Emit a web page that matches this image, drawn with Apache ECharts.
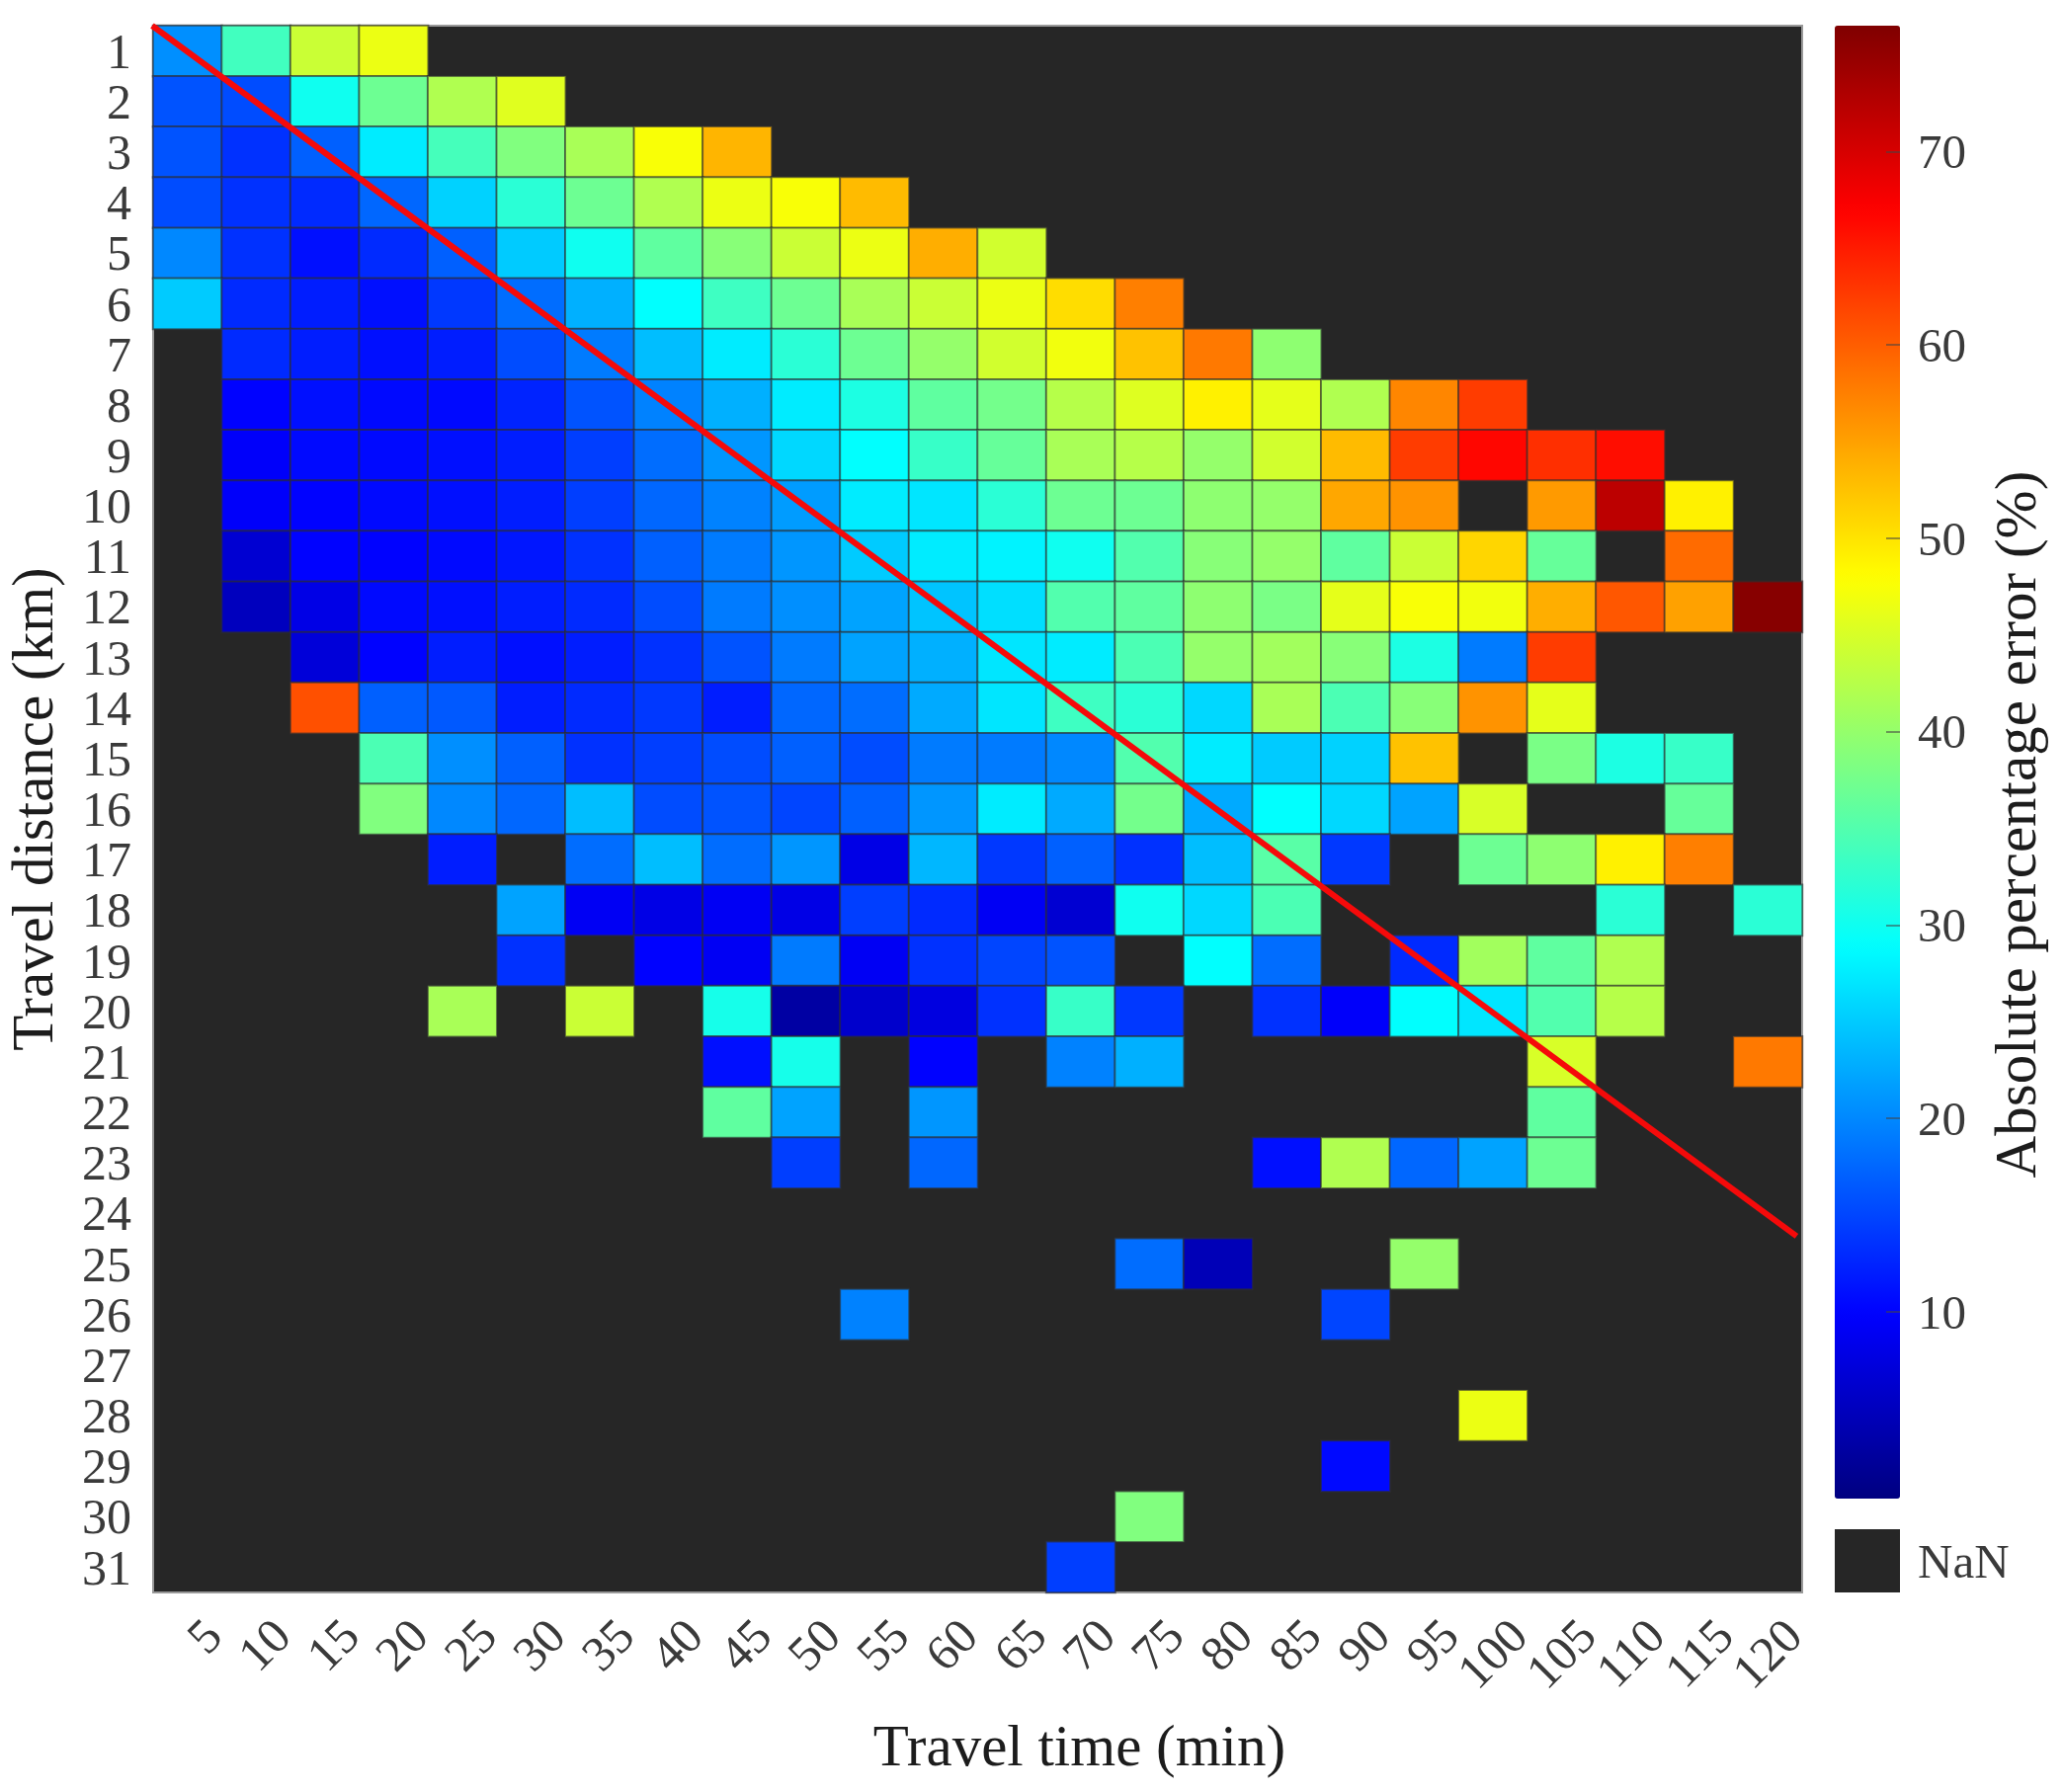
<!DOCTYPE html>
<html><head><meta charset="utf-8">
<style>html,body{margin:0;padding:0;background:#fff}#c{width:2088px;height:1814px}</style>
<script src="https://cdn.jsdelivr.net/npm/echarts@6/dist/echarts.min.js"></script>
</head><body><div id="c"></div>
<script>
const _ = null;
const travelTimes = ['5','10','15','20','25','30','35','40','45','50','55','60','65','70','75','80','85','90','95','100','105','110','115','120'];
const travelDistances = ['1','2','3','4','5','6','7','8','9','10','11','12','13','14','15','16','17','18','19','20','21','22','23','24','25','26','27','28','29','30','31'];
const row1 = [20.5,33.7,44,46.5];
const row2 = [16,15.5,30,37,42,45.6];
const row3 = [16,13.5,17,27.5,34,38.5,41.5,47.5,53.5];
const row4 = [15.5,13.5,13,17.5,25.5,32,37,42,46.5,47.5,53];
const row5 = [20,13.5,11,13,17,25,30,36,39,44,46.5,54,44.5];
const row6 = [25,13,12,11,14,18,23,29,33.5,37,41.5,44,46.5,50.5,57.5];
const row7 = [_,13,12,11,12,15.5,19,24,27.5,32,37,40,44.5,47,52.5,58,39.5];
const row8 = [_,10,11,10.5,10.5,12.5,16,19.5,23,27.5,31,36,37.5,42.5,45.5,49,46,42,57,62.5];
const row9 = [_,9.5,10.5,10.5,11,12,14.5,18,21,26,29,33,36.5,41.5,42.5,40,44.5,53,62.5,66.5,63.5,66];
const row10 = [_,9.5,10,10.5,11,12,14.5,17.5,19.5,21.5,27.5,27,32,37,37,39.5,40,54.5,56,_,55.5,72,49];
const row11 = [_,6.5,10,10,10.5,11.5,13.5,17,19,21,25,27.5,28,30,35,39,40,36,44,51,36.5,_,59];
const row12 = [_,5,8,10.5,11,12,13,15.5,19,20.5,22,24.5,26.5,35,36,39.5,38,46,47.5,47,54,60.5,55,76];
const row13 = [_,_,7,10,12,11,12,13.5,16,19,22,23,27,27.5,34.5,40,41,39,31,19,62.5];
const row14 = [_,_,61,17,16.5,12,13,14,12,17.5,18,22.5,27,33.5,32,26,41.5,34.5,39,56,46];
const row15 = [_,_,_,34.5,20.5,17,13.5,14.5,15.5,17,15.5,19,19,20,35,27.5,25,25.5,52.5,_,38,31,33];
const row16 = [_,_,_,38.5,20,17.5,24,15.5,16,15,17,21,27.5,22.5,37.5,22.5,29,26,22,45,_,_,36.5];
const row17 = [_,_,_,_,12,_,18,24,18,21,8,23.5,14,17,13.5,24,35.5,14,_,37,39.5,49,57.5];
const row18 = [_,_,_,_,_,22,9,8,9,8,14.5,13,9,6.5,30,26,34.5,_,_,_,_,32,_,32];
const row19 = [_,_,_,_,_,13.5,_,10,9,19,9,13.5,15,16,_,29,18,_,13,41,36,42];
const row20 = [_,_,_,_,41.5,_,44,_,30.5,3,6,7.5,13.5,33,14,_,13.5,9.5,29,27,35,42.5];
const row21 = [_,_,_,_,_,_,_,_,11,30.5,_,10,_,19.5,23,_,_,_,_,_,45,_,_,58];
const row22 = [_,_,_,_,_,_,_,_,36,22,_,21,_,_,_,_,_,_,_,_,36];
const row23 = [_,_,_,_,_,_,_,_,_,14.5,_,17.5,_,_,_,_,11,42,17.5,22,37];
const row24 = [];
const row25 = [_,_,_,_,_,_,_,_,_,_,_,_,_,_,18,4.5,_,_,40];
const row26 = [_,_,_,_,_,_,_,_,_,_,19.5,_,_,_,_,_,_,15];
const row27 = [];
const row28 = [_,_,_,_,_,_,_,_,_,_,_,_,_,_,_,_,_,_,_,46.5];
const row29 = [_,_,_,_,_,_,_,_,_,_,_,_,_,_,_,_,_,10.5];
const row30 = [_,_,_,_,_,_,_,_,_,_,_,_,_,_,38.5];
const row31 = [_,_,_,_,_,_,_,_,_,_,_,_,_,14.5];
const rows = [row1,row2,row3,row4,row5,row6,row7,row8,row9,row10,row11,row12,row13,row14,row15,row16,row17,row18,row19,row20,row21,row22,row23,row24,row25,row26,row27,row28,row29,row30,row31];
const colorbarTicks = [10,20,30,40,50,60,70];
const colorMin = 0.34, colorMax = 76.5;
const lineTime = [0,119.6];
const lineDistance = [0,23.95];
const jet = ['#000080','#0000ff','#0080ff','#00ffff','#80ff80','#ffff00','#ff8000','#ff0000','#800000'];

const cells = [];
rows.forEach((r,y)=>r.forEach((v,x)=>{ if(v!==null) cells.push([x,y,v]); }));
const serif = '"Liberation Serif"';
const mainGrid = {left:154,top:26,width:1670,height:1586};
const barGrid = {left:1857,top:26,width:66,height:1491};
const nanGrid = {left:1857,top:1548,width:66,height:64};
const sideLabelShift = {verticalAlign:'top',lineHeight:50,padding:[-21,0,0,0]};

const chart = echarts.init(document.getElementById('c'),null,{renderer:'canvas'});
chart.setOption({
  animation:false,
  backgroundColor:'#fff',
  grid:[
    {...mainGrid,show:true,backgroundColor:'#262626',borderColor:'#999',borderWidth:2},
    {...mainGrid},
    {...barGrid},
    {...nanGrid,show:true,backgroundColor:'#262626',borderWidth:0}
  ],
  xAxis:[
    {gridIndex:0,type:'category',data:travelTimes,axisTick:{show:false},axisLine:{show:false},splitLine:{show:false},
     axisLabel:{interval:0,rotate:45,margin:66,padding:[0,-40,0,0],fontFamily:serif,fontSize:50,color:'#3a3a3a'},
     name:'Travel time (min)',nameLocation:'middle',nameGap:130,
     nameTextStyle:{fontFamily:serif,fontSize:59,color:'#1c1c1c',padding:[0,0,0,206]}},
    {gridIndex:1,type:'value',min:0,max:120,show:false},
    {gridIndex:2,type:'value',min:0,max:1,show:false},
    {gridIndex:3,type:'value',min:0,max:1,show:false}
  ],
  yAxis:[
    {gridIndex:0,type:'category',inverse:true,data:travelDistances,axisTick:{show:false},axisLine:{show:false},splitLine:{show:false},
     axisLabel:{interval:0,margin:22,...sideLabelShift,fontFamily:serif,fontSize:50,color:'#3a3a3a'},
     name:'Travel distance (km)',nameLocation:'middle',nameGap:88,nameRotate:90,
     nameTextStyle:{fontFamily:serif,fontSize:59,color:'#1c1c1c'}},
    {gridIndex:1,type:'value',inverse:true,min:0,max:31,show:false},
    {gridIndex:2,type:'value',min:colorMin,max:colorMax,position:'right',
     axisLine:{show:false},splitLine:{show:false},axisTick:{show:false},
     axisLabel:{show:true,margin:18,...sideLabelShift,customValues:colorbarTicks,fontFamily:serif,fontSize:49,color:'#3a3a3a'},
     name:'Absolute percentage error (%)',nameLocation:'middle',nameGap:92,nameRotate:90,
     nameTextStyle:{fontFamily:serif,fontSize:59,color:'#1c1c1c',padding:[0,126,0,0]}},
    {gridIndex:3,type:'category',data:['NaN'],position:'right',axisLine:{show:false},axisTick:{show:false},
     axisLabel:{margin:18,...sideLabelShift,fontFamily:serif,fontSize:49,color:'#3a3a3a'}},
    {gridIndex:2,type:'value',min:colorMin,max:colorMax,position:'left',offset:-66,z:10,
     axisLine:{show:false},splitLine:{show:false},axisLabel:{show:false},
     axisTick:{show:true,length:14,customValues:colorbarTicks,lineStyle:{color:'#444',width:2,opacity:.55}}}
  ],
  visualMap:{type:'continuous',seriesIndex:0,min:colorMin,max:colorMax,calculable:false,realtime:false,
    left:1857,top:26,itemWidth:66,itemHeight:1491,padding:0,text:null,showLabel:false,
    inRange:{color:jet},textStyle:{fontSize:1,color:'rgba(0,0,0,0)'}},
  series:[
    {type:'heatmap',xAxisIndex:0,yAxisIndex:0,data:cells,
     itemStyle:{borderColor:'rgba(45,45,45,0.62)',borderWidth:2},
     emphasis:{disabled:true},progressive:0,z:2},
    {type:'line',xAxisIndex:1,yAxisIndex:1,data:lineTime.map((t,i)=>[t,lineDistance[i]]),
     symbol:'none',lineStyle:{color:'#f50a0a',width:6},clip:false,z:5}
  ]
});
</script></body></html>
